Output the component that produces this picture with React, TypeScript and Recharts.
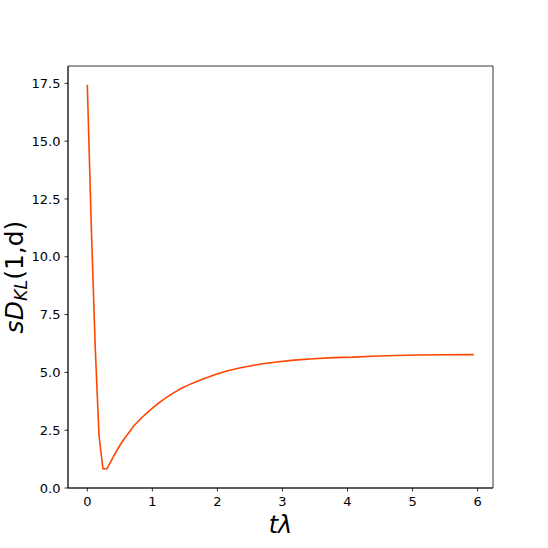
import React from "react";
import { LineChart, Line, XAxis, YAxis, ReferenceArea } from "recharts";

const tValues = [
  0, 0.06, 0.12, 0.18, 0.24, 0.3, 0.36, 0.42, 0.48, 0.54, 0.6, 0.72, 0.84, 0.96,
  1.08, 1.2, 1.32, 1.44, 1.56, 1.68, 1.8, 1.98, 2.16, 2.34, 2.52, 2.7, 2.94,
  3.18, 3.48, 3.78, 4.08, 4.38, 4.74, 5.1, 5.46, 5.94,
];
const sdklValues = [
  17.44, 11.4, 6.2, 2.26, 0.83, 0.83, 1.14, 1.45, 1.74, 2.02, 2.25, 2.7, 3.05,
  3.36, 3.64, 3.89, 4.1, 4.3, 4.46, 4.61, 4.74, 4.92, 5.07, 5.19, 5.29, 5.37,
  5.46, 5.53, 5.59, 5.64, 5.66, 5.7, 5.73, 5.75, 5.76, 5.77,
];
const xTicks = [0, 1, 2, 3, 4, 5, 6];
const yTicks = [0, 2.5, 5, 7.5, 10, 12.5, 15, 17.5];

const X_DOMAIN: [number, number] = [-0.297, 6.237];
const Y_DOMAIN: [number, number] = [0, 18.25];

const data = tValues.map((t, i) => ({ t, v: sdklValues[i] }));

const FONT = "DejaVu Sans";
const tickStyle = { fontFamily: FONT, fontSize: 13, fill: "#000" };

const YLabel = () => (
  <text
    x={23}
    y={277}
    transform="rotate(-90, 23, 277)"
    textAnchor="middle"
    fontFamily={FONT}
    fontSize={25}
    fill="#000"
  >
    <tspan fontStyle="italic">sD</tspan>
    <tspan fontStyle="italic" fontSize={17.5} dy={4}>
      KL
    </tspan>
    <tspan dy={-4}>(1,d)</tspan>
  </text>
);

const XLabel = () => (
  <text
    x={280.5}
    y={533}
    textAnchor="middle"
    fontFamily={FONT}
    fontSize={24}
    fontStyle="italic"
    fill="#000"
  >
    tλ
  </text>
);

export default function App() {
  return (
    <div style={{ position: "absolute", left: 0, top: 0, width: 548, height: 548, background: "#fff" }}>
      <LineChart
        width={548}
        height={548}
        data={data}
        margin={{ top: 66, right: 55, left: 0, bottom: 0 }}
      >
        <XAxis
          dataKey="t"
          type="number"
          domain={X_DOMAIN}
          allowDataOverflow
          ticks={xTicks}
          tickFormatter={(v: number) => String(v)}
          height={60}
          tickSize={3.5}
          tickMargin={5}
          tick={tickStyle}
          axisLine={{ stroke: "#000", strokeWidth: 0.8 }}
          tickLine={{ stroke: "#000", strokeWidth: 0.8 }}
          label={<XLabel />}
        />
        <YAxis
          type="number"
          domain={Y_DOMAIN}
          allowDataOverflow
          ticks={yTicks}
          tickFormatter={(v: number) => v.toFixed(1)}
          width={68}
          tickSize={3.5}
          tickMargin={4}
          tick={tickStyle}
          axisLine={{ stroke: "#000", strokeWidth: 0.8 }}
          tickLine={{ stroke: "#000", strokeWidth: 0.8 }}
          label={<YLabel />}
        />
        <ReferenceArea
          x1={X_DOMAIN[0]}
          x2={X_DOMAIN[1]}
          y1={Y_DOMAIN[0]}
          y2={Y_DOMAIN[1]}
          fill="none"
          fillOpacity={0}
          stroke="#000"
          strokeWidth={0.8}
          ifOverflow="visible"
        />
        <Line
          type="linear"
          dataKey="v"
          stroke="#FF4500"
          strokeWidth={1.6}
          dot={false}
          isAnimationActive={false}
        />
      </LineChart>
    </div>
  );
}
